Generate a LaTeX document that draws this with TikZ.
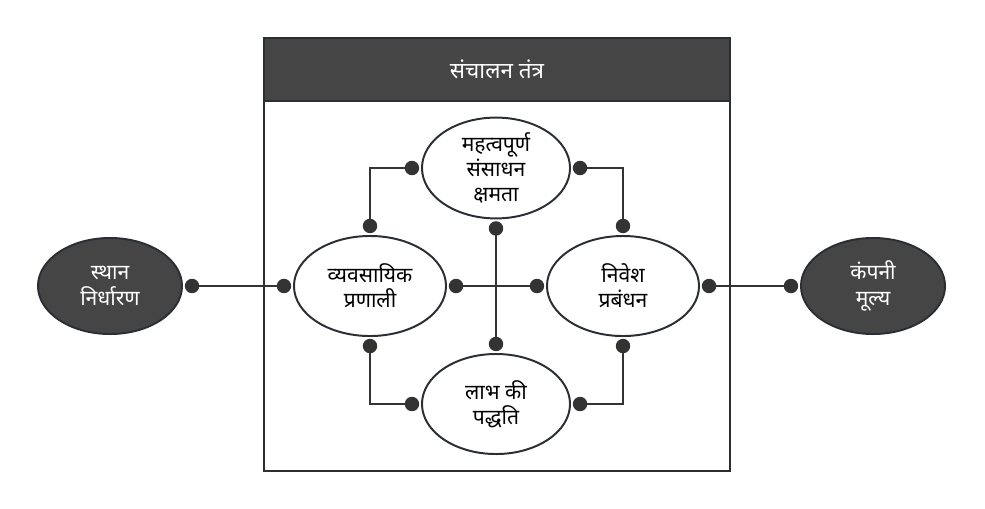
\documentclass[tikz,border=0pt]{standalone}
\usepackage{fontspec}
\setmainfont{Noto Sans}[Script=Devanagari]
\usepackage{tikz}
\usetikzlibrary{positioning, arrows.meta, shapes.geometric}
\definecolor{boxdark}{RGB}{69, 69, 69}
\definecolor{edgedark}{RGB}{43, 47, 51}
\definecolor{linkgray}{RGB}{51, 51, 51}
\tikzset{
  frame/.style={draw=edgedark, line width=1.4pt, fill=white},
  titlebar/.style={draw=edgedark, line width=1.4pt, fill=boxdark,
                   text=white, font=\fontsize{16}{19}\selectfont},
  oval/.style={ellipse, draw=edgedark, line width=1.4pt, fill=white,
               align=center, inner sep=0pt, outer sep=2pt,
               font=\fontsize{15}{18}\selectfont},
  darkoval/.style={oval, fill=boxdark, text=white},
  link/.style={draw=linkgray, line width=1.3pt,
               {Circle[length=0.36cm]}-{Circle[length=0.36cm]}},
}

\begin{document}
\begin{tikzpicture}[x=0.025cm, y=-0.025cm]
\useasboundingbox (0,0) rectangle (985,508);

% ===================== system frame =====================
\node[frame, minimum width=11.65cm, minimum height=10.825cm, anchor=north west]
  (sys) at (263,37) {};
\node[titlebar, minimum width=11.65cm, minimum height=1.575cm, anchor=north west]
  (systitle) at (sys.north west) {संचालन तंत्र};

% ===================== inner ovals =====================
\node[oval, minimum width=3.8cm, minimum height=2.5cm] (biz) at (370,286)
  {व्यवसायिक\\प्रणाली};
\node[oval, minimum width=3.8cm, minimum height=2.5cm] (invest) at (623,286)
  {निवेश\\प्रबंधन};
\node[oval, minimum width=3.7cm, minimum height=2.5cm] (res) at (496,168)
  {महत्वपूर्ण\\संसाधन\\क्षमता};
\node[oval, minimum width=3.7cm, minimum height=2.5cm] (profit) at (496,404)
  {लाभ की\\पद्धति};

% ===================== outer ovals =====================
\node[darkoval, minimum width=3.6cm, minimum height=2.4cm] (place) at (110,286)
  {स्थान\\निर्धारण};
\node[darkoval, minimum width=3.6cm, minimum height=2.4cm] (value) at (873,286)
  {कंपनी\\मूल्य};

% ===================== connectors =====================
\draw[link] (place.east) -- (biz.west);
\draw[link] (invest.east) -- (value.west);
\draw[link] (biz.east) -- (invest.west);
\draw[link] (res.south) -- (profit.north);
\draw[link] (biz.north) |- (res.west);
\draw[link] (res.east) -| (invest.north);
\draw[link] (biz.south) |- (profit.west);
\draw[link] (profit.east) -| (invest.south);

\end{tikzpicture}
\end{document}
